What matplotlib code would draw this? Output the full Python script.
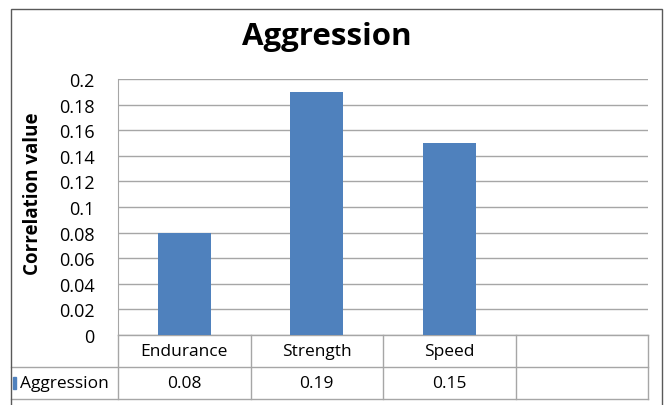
from matplotlib import pyplot as plt
from matplotlib.patches import Rectangle
import numpy as np

plt.rcParams['font.family'] = ['Open Sans', 'DejaVu Sans']

categories = ['Endurance', 'Strength', 'Speed', '']
values = [0.08, 0.19, 0.15]
series_name = 'Aggression'
yticks = [0, 0.02, 0.04, 0.06, 0.08, 0.1, 0.12, 0.14, 0.16, 0.18, 0.2]
ytick_labels = ['0', '0.02', '0.04', '0.06', '0.08', '0.1', '0.12', '0.14', '0.16', '0.18', '0.2']

bar_color = '#4F81BD'
grid_color = '#A6A6A6'
W, H = 668, 406

fig = plt.figure(figsize=(W / 100, H / 100), dpi=100)
fig.set_facecolor('white')

# axes placed in pixel terms
left, right, top, bottom = 118, 648, 80, 336
ax = fig.add_axes([left / W, 1 - bottom / H, (right - left) / W, (bottom - top) / H])

x = np.arange(len(values))
ax.bar(x, values, width=0.4, color=bar_color, zorder=3)

ax.set_xlim(-0.5, len(categories) - 0.5)
ax.set_ylim(0, 0.2)
ax.set_yticks(yticks)
ax.set_yticklabels(ytick_labels, fontsize=13)
ax.set_xticks([])
ax.tick_params(axis='y', length=0, pad=17)
ax.grid(axis='y', color=grid_color, lw=1, zorder=0)
for s in ['top', 'right', 'bottom']:
    ax.spines[s].set_visible(False)
ax.spines['left'].set_color(grid_color)

fig.text(33 / W, 1 - 194 / H, 'Correlation value', fontsize=13.5, fontweight='bold',
         rotation=90, ha='center', va='center')
fig.text(327 / W, 1 - 37 / H, 'Aggression', fontsize=22.5, fontweight='bold',
         ha='center', va='center')

# data table under the axis
row_h = 32 / (bottom - top)
lab_x = (11 - left) / (right - left)
tr = ax.get_xaxis_transform()
line_kw = dict(color=grid_color, lw=1, clip_on=False)
ax.plot([-0.5, len(categories) - 0.5], [0, 0], transform=tr, **line_kw)
ax.plot([lab_x, 1], [-row_h, -row_h], transform=ax.transAxes, **line_kw)
ax.plot([lab_x, 1], [-2 * row_h, -2 * row_h], transform=ax.transAxes, **line_kw)
for b in np.arange(len(categories) + 1) - 0.5:
    ax.plot([b, b], [0, -2 * row_h], transform=tr, **line_kw)

for i, c in enumerate(categories):
    ax.text(i, -row_h / 2, c, transform=tr, ha='center', va='center', fontsize=12.5)
for i, v in enumerate(values):
    ax.text(i, -1.5 * row_h, f'{v:g}', transform=tr, ha='center', va='center', fontsize=12.5)

ax.text(lab_x + 9 / (right - left), -1.5 * row_h, series_name, transform=ax.transAxes,
        ha='left', va='center', fontsize=12.5)
ax.add_patch(Rectangle((lab_x + 1.5 / (right - left), -1.5 * row_h - 6 / (bottom - top)),
                       3 / (right - left), 12 / (bottom - top),
                       transform=ax.transAxes, color=bar_color, clip_on=False))

# outer chart border
fig.patches.append(Rectangle((11 / W, -0.05), (662 - 11) / W, 1.05 - 10 / H,
                             transform=fig.transFigure, fill=False,
                             edgecolor='#595959', lw=1))

fig.savefig('out.png', dpi=100)
